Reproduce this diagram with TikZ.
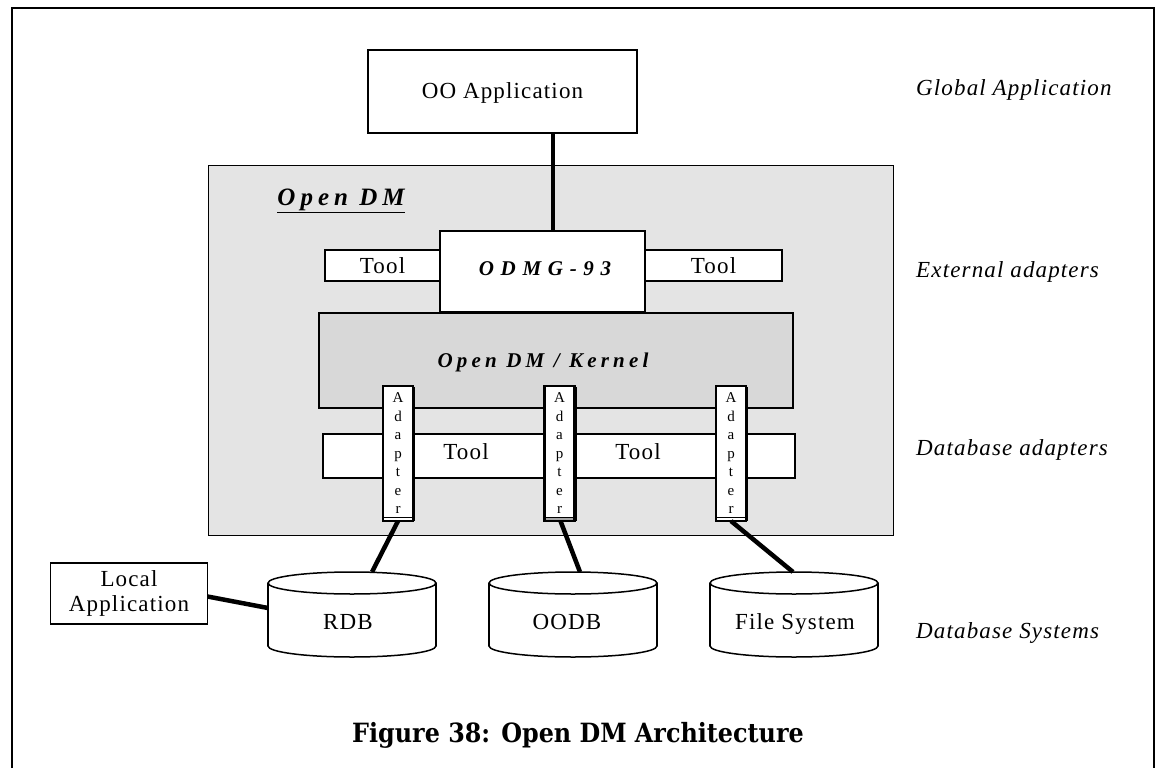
\documentclass[tikz,border=0pt]{standalone}
\usepackage{fontspec}
\setmainfont{Liberation Serif}
\newfontfamily\lblfont[LetterSpace=5]{Liberation Serif}
\newfontfamily\widefont[LetterSpace=32]{Liberation Serif}
\newfontfamily\kernfont[LetterSpace=20]{Liberation Serif}
\newfontfamily\titlefont[LetterSpace=20]{Liberation Serif}
\newfontfamily\capfont[FakeStretch=0.9]{DejaVu Serif}
\definecolor{odmgrey}{HTML}{E4E4E4}
\definecolor{kerngrey}{HTML}{D8D8D8}
\newcommand\dbcyl[2]{%
  \draw[line width=1.5pt, fill=white] (#1,646) ellipse[x radius=#2, y radius=11];
  \fill[white] ({#1-#2},583) rectangle ({#1+#2},646);
  \draw[line width=1.5pt] ({#1-#2},583) -- ({#1-#2},646) ({#1+#2},583) -- ({#1+#2},646);
  \draw[line width=1.5pt, fill=white] (#1,583) ellipse[x radius=#2, y radius=11];
}
\begin{document}
\begin{tikzpicture}[x=1pt,y=-1pt,
  box/.style={draw, line width=1.5pt, fill=white, inner sep=0pt, outer sep=0pt},
  adapterbox/.style={draw, line width=2.2pt, fill=white, inner sep=0pt, outer sep=0pt,
     minimum width=30, minimum height=135, align=center,
     font=\lblfont\fontsize{15}{18.5}\selectfont},
  plain/.style={inner sep=0pt, font=\lblfont\fontsize{23}{27}\selectfont},
  sidelabel/.style={anchor=base west, inner sep=0pt, font=\lblfont\itshape\fontsize{23}{27}\selectfont},
  bi/.style={inner sep=0pt, font=\widefont\bfseries\itshape\fontsize{21}{25}\selectfont},
  conn/.style={line width=4.5pt},
]
\useasboundingbox (0,0) rectangle (1156,768);
% outer frame
\draw[line width=2.5pt] (12,768) -- (12,8) -- (1154,8) -- (1154,768);

% top application
\node[box, minimum width=269, minimum height=83] (oo) at (502.5,91.5) {};
\node[plain, anchor=base] at (502.5,99) {OO Application};

% Open DM container
\node[draw, line width=1pt, fill=odmgrey, inner sep=0pt, outer sep=0pt,
      minimum width=685, minimum height=370] (odm) at (550.5,350) {};
\node[inner sep=0pt, anchor=base, font=\titlefont\bfseries\itshape\fontsize{25}{29}\selectfont]
   (odmtitle) at (341,205) {\underline{Open DM}};

% external tools and ODMG
\node[box, minimum width=115, minimum height=31] (ltool) at (382.5,265.5) {};
\node[plain, anchor=base] at (382.5,273) {Tool};
\node[box, minimum width=137, minimum height=31] (rtool) at (713.5,265.5) {};
\node[plain, anchor=base] at (713.5,273) {Tool};
\node[box, minimum width=205, minimum height=81] (odmg) at (542.5,271.5) {};
\node[bi, anchor=base] at (545,275) {ODMG-93};

\coordinate (lx) at (553,0);
\draw[conn, line width=4pt] (oo.south -| lx) -- (odmg.north -| lx);

% kernel
\node[draw, line width=1.5pt, fill=kerngrey, inner sep=0pt, outer sep=0pt,
      minimum width=474, minimum height=95] (kernel) at (556,360.5) {};
\node[inner sep=0pt, anchor=base, font=\kernfont\bfseries\itshape\fontsize{21}{25}\selectfont]
   at (543,367) {Open DM / Kernel};

% database tool band
\node[box, minimum width=472, minimum height=44] (band) at (559,456) {};
\node[plain, anchor=base] at (466,459) {Tool};
\node[plain, anchor=base] at (638,459) {Tool};

% adapters
\node[adapterbox] (a1) at (398,453.5) {A\\d\\a\\p\\t\\e\\r};
\node[adapterbox] (a2) at (559.5,453.5) {A\\d\\a\\p\\t\\e\\r};
\node[adapterbox] (a3) at (731,453.5) {A\\d\\a\\p\\t\\e\\r};
\fill[gray!70] ([yshift=4pt]a2.south west) rectangle (a2.south east);
\draw[line width=2.2pt] (a2.south west) rectangle (a2.north east);
\foreach \a in {a1,a2,a3}{
  \draw[line width=1pt] ([yshift=4pt]\a.south west) -- ([yshift=4pt]\a.south east);
  \draw[line width=1.2pt] ([xshift=1.5pt,yshift=-1pt]\a.north east) -- ([xshift=1.5pt]\a.south east);
}

% database systems
\dbcyl{352}{84}
\dbcyl{573}{84}
\dbcyl{794}{84}
\node[plain, anchor=base] (rdb) at (348,629) {RDB};
\node[plain, anchor=base] (oodb) at (567,629) {OODB};
\node[plain, anchor=base] (fs) at (795,629) {File System};
\coordinate (rdbtop) at (372,572);
\coordinate (oodbtop) at (580,572);
\coordinate (fstop) at (793,572);
\coordinate (rdbleft) at (268,608);

\draw[conn] (a1.south) -- (rdbtop);
\draw[conn] ([xshift=1pt]a2.south) -- (oodbtop);
\draw[conn] (a3.south) -- (fstop);

% local application
\node[box, minimum width=157, minimum height=61, align=center,
      font=\lblfont\fontsize{23}{25}\selectfont] (local) at (129,593.5) {Local\\Application};
\draw[conn] ([yshift=-3pt]local.east) -- (rdbleft);

% side labels
\node[sidelabel] at (916,95) {Global Application};
\node[sidelabel] at (916,277) {External adapters};
\node[sidelabel] at (916,455) {Database adapters};
\node[sidelabel] at (916,638) {Database Systems};

% caption
\node[inner sep=0pt, anchor=base, font=\capfont\bfseries\fontsize{26.5}{31}\selectfont]
  (caption) at (578,742) {Figure 38: Open DM Architecture};
\end{tikzpicture}
\end{document}
